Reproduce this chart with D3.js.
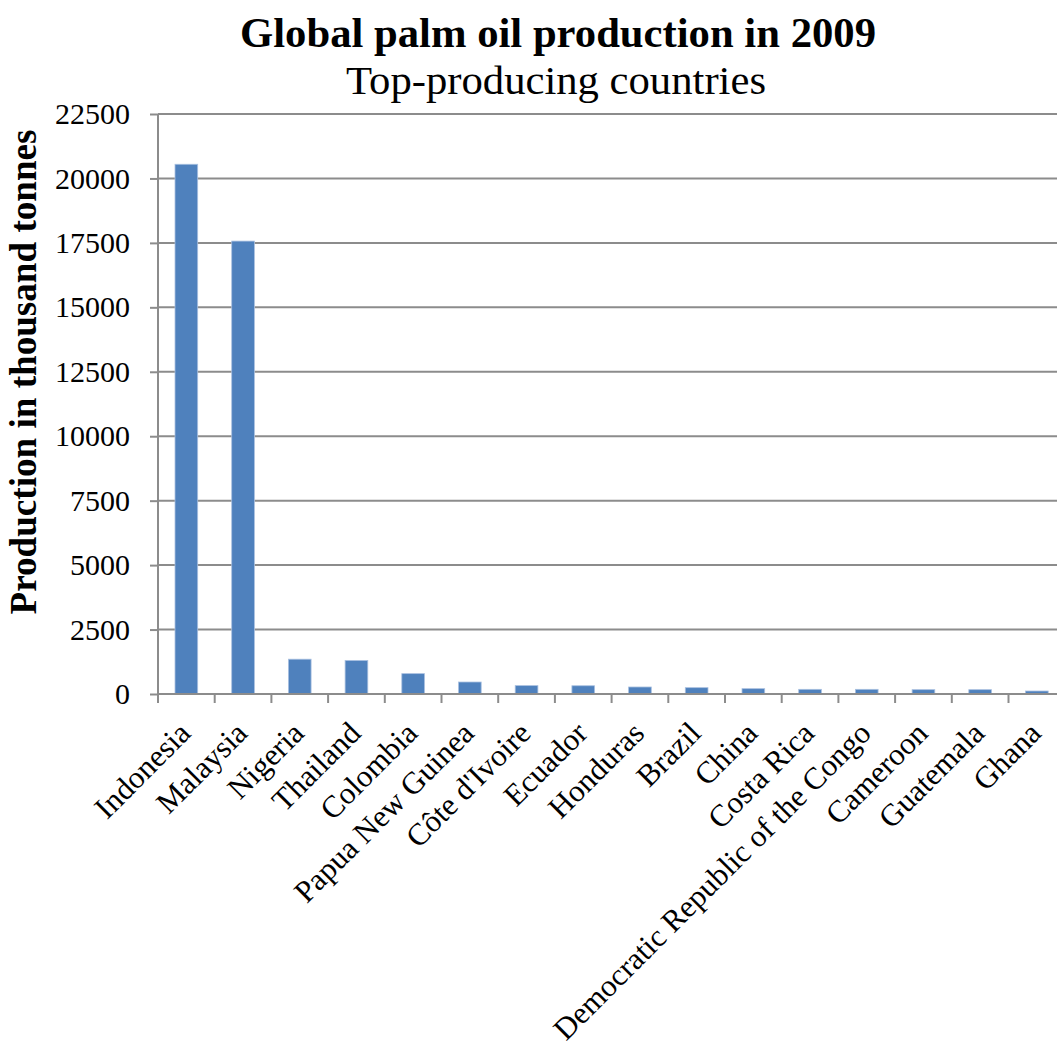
<!DOCTYPE html>
<html>
<head>
<meta charset="utf-8">
<script src="https://cdn.jsdelivr.net/npm/d3@7"></script>
<style>
  html, body { margin: 0; padding: 0; background: #fff; }
  svg { display: block; }
  text { font-family: "Liberation Serif", "Times New Roman", serif; fill: #000; }
</style>
</head>
<body>
<svg id="chart" width="1057" height="1047"></svg>
<script>
const categories = ["Indonesia", "Malaysia", "Nigeria", "Thailand", "Colombia", "Papua New Guinea",
  "Côte d'Ivoire", "Ecuador", "Honduras", "Brazil", "China", "Costa Rica",
  "Democratic Republic of the Congo", "Cameroon", "Guatemala", "Ghana"];
const production = [20550, 17570, 1350, 1300, 790, 465, 325, 320, 272, 246, 207, 181, 181, 168, 168, 116];
const yTicks = [0, 2500, 5000, 7500, 10000, 12500, 15000, 17500, 20000, 22500];
const titleText = "Global palm oil production in 2009";
const subtitleText = "Top-producing countries";
const yLabelText = "Production in thousand tonnes";

(function () {
const svg = d3.select("#chart");
const pLeft = 158, pRight = 158 + 16 * 56.7, pTop = 114, pBottom = 694;

const x = d3.scaleBand().domain(categories).range([pLeft, pRight]).paddingInner(0.6).paddingOuter(0.3);
const xc = d3.scaleBand().domain(categories).range([pLeft, pRight]);
const y = d3.scaleLinear().domain([0, 22500]).range([pBottom, pTop]);

// gridlines
svg.append("g").selectAll("line").data(yTicks.filter(d => d > 0)).join("line")
  .attr("x1", pLeft).attr("x2", pRight)
  .attr("y1", d => y(d)).attr("y2", d => y(d))
  .attr("stroke", "#8c8c8c").attr("stroke-width", 2);

// bars
svg.append("g").selectAll("rect").data(categories).join("rect")
  .attr("x", d => x(d))
  .attr("width", x.bandwidth())
  .attr("y", (d, i) => y(production[i]))
  .attr("height", (d, i) => pBottom - y(production[i]))
  .attr("fill", "#4f81bd")
  .attr("stroke", "#a9c0e0").attr("stroke-width", 0.8);

// y axis
const yAxis = d3.axisLeft(y).tickValues(yTicks).tickSize(8).tickPadding(20).tickFormat(d3.format("d"));
const gy = svg.append("g").attr("transform", `translate(${pLeft},0)`).call(yAxis);
gy.select(".domain").attr("stroke", "#8c8c8c").attr("stroke-width", 2).attr("d", `M0,${pBottom}V${pTop}`);
gy.selectAll(".tick line").attr("stroke", "#8c8c8c").attr("stroke-width", 2);
gy.selectAll(".tick text").attr("font-size", 30).attr("font-family", "Liberation Serif").attr("fill", "#000");

// x axis
const xAxis = d3.axisBottom(xc).tickSize(0).tickFormat("");
const gx = svg.append("g").attr("transform", `translate(0,${pBottom})`).call(xAxis);
gx.select(".domain").attr("stroke", "#8c8c8c").attr("stroke-width", 2).attr("d", `M${pLeft},0H${pRight}`);
gx.selectAll(".tick").remove();
const boundaries = d3.range(categories.length + 1).map(i => pLeft + i * xc.step());
svg.append("g").selectAll("line").data(boundaries).join("line")
  .attr("x1", d => d).attr("x2", d => d)
  .attr("y1", pBottom).attr("y2", pBottom + 9)
  .attr("stroke", "#8c8c8c").attr("stroke-width", 2);

svg.append("g").selectAll("text").data(categories).join("text")
  .attr("transform", d => `translate(${xc(d) + xc.bandwidth() / 2 + 6},${pBottom + 41}) rotate(-45)`)
  .attr("text-anchor", "end")
  .attr("font-size", 31)
  .text(d => d);

// titles
svg.append("text").attr("x", 558).attr("y", 47).attr("text-anchor", "middle")
  .attr("font-size", 43).attr("font-weight", "bold")
  .attr("textLength", 636).attr("lengthAdjust", "spacingAndGlyphs")
  .text(titleText);
svg.append("text").attr("x", 556).attr("y", 94).attr("text-anchor", "middle")
  .attr("font-size", 41)
  .attr("textLength", 420).attr("lengthAdjust", "spacingAndGlyphs")
  .text(subtitleText);

// y label
svg.append("text").attr("transform", `translate(36,372) rotate(-90)`)
  .attr("text-anchor", "middle").attr("font-size", 37).attr("font-weight", "bold")
  .attr("textLength", 485).attr("lengthAdjust", "spacingAndGlyphs")
  .text(yLabelText);
})();
</script>
</body>
</html>
